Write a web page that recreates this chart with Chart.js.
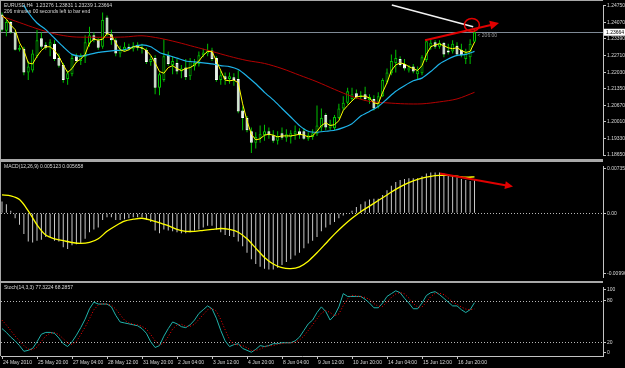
<!DOCTYPE html>
<html>
<head>
<meta charset="utf-8">
<title>EURUSD,H4</title>
<script src="https://cdn.jsdelivr.net/npm/chart.js@4.4.1/dist/chart.umd.min.js"></script>
<style>
  html, body { margin: 0; padding: 0; background: #000; }
  #wrap { position: relative; width: 625px; height: 368px; background: #000; overflow: hidden;
          font-family: "Liberation Sans", Arial, sans-serif; }
  canvas { position: absolute; left: 1px; }
  .sep { position: absolute; left: 0; width: 603px; background: #a8a8a8; }
  .txt { position: absolute; left: 4px; color: #d8d8d8; font-size: 5px; line-height: 6px; white-space: nowrap; }
</style>
</head>
<body>
<div id="wrap">
  <div class="sep" style="top:0;height:1px"></div>
  <div class="sep" style="top:0;width:1px;height:356px"></div>
  <canvas id="main" width="624" height="158" style="top:1px"></canvas>
  <div class="sep" style="top:159px;height:3px"></div>
  <canvas id="macd" width="624" height="119" style="top:162px"></canvas>
  <div class="sep" style="top:281px;height:2px"></div>
  <canvas id="stoch" width="624" height="85" style="top:283px"></canvas>

  <div class="txt" style="top:2px">EURUSD,H4&nbsp; 1.23276 1.23831 1.23239 1.23664</div>
  <div class="txt" style="top:8px">206 minutes 00 seconds left to bar end</div>
  <div class="txt" style="top:163px">MACD(12,26,9) 0.005123 0.005658</div>
  <div class="txt" style="top:284px">Stoch(14,3,3) 77.3224 68.2857</div>
</div>

<script>
// ---------------- data (H4 bars, 24 May 12:00 .. 17 Jun 12:00) ----------------
var TIME_LABELS = ['24 May 2010', '25 May 20:00', '27 May 04:00', '28 May 12:00', '31 May 20:00',
    '2 Jun 04:00', '3 Jun 12:00', '4 Jun 20:00', '8 Jun 04:00', '9 Jun 12:00',
    '10 Jun 20:00', '14 Jun 04:00', '15 Jun 12:00', '16 Jun 20:00'];
var TIME_TICK_BARS = [0, 8, 16, 24, 32, 40, 48, 56, 64, 72, 80, 88, 96, 104];

var OPEN = [
    1.2439, 1.2373, 1.2408, 1.2365, 1.2295, 1.2299, 1.2202, 1.2210, 1.2268, 1.2342,
    1.2315, 1.2311, 1.2319, 1.2261, 1.2233, 1.2175, 1.2195, 1.2268, 1.2249, 1.2264,
    1.2319, 1.2354, 1.2334, 1.2307, 1.2427, 1.2358, 1.2334, 1.2280, 1.2295, 1.2307,
    1.2299, 1.2315, 1.2303, 1.2295, 1.2245, 1.2261, 1.2140, 1.2171, 1.2272, 1.2233,
    1.2241, 1.2206, 1.2222, 1.2187, 1.2226, 1.2237, 1.2272, 1.2280, 1.2292, 1.2261,
    1.2171, 1.2187, 1.2175, 1.2183, 1.2175, 1.2047, 1.2016, 1.1962, 1.1915, 1.1935,
    1.1946, 1.1962, 1.1946, 1.1923, 1.1954, 1.1935, 1.1939, 1.1950, 1.1962, 1.1962,
    1.1931, 1.1939, 1.1950, 1.1977, 1.2028, 1.1974, 1.1974, 1.2016, 1.2055, 1.2078,
    1.2094, 1.2117, 1.2102, 1.2113, 1.2090, 1.2094, 1.2063, 1.2105, 1.2164, 1.2199,
    1.2241, 1.2257, 1.2237, 1.2210, 1.2226, 1.2195, 1.2199, 1.2253, 1.2307, 1.2326,
    1.2307, 1.2323, 1.2292, 1.2288, 1.2311, 1.2295, 1.2257, 1.2264, 1.23276];
var HIGH = [
    1.2447, 1.2416, 1.2412, 1.2369, 1.2315, 1.2307, 1.2249, 1.2295, 1.2377, 1.2365,
    1.2326, 1.2338, 1.2334, 1.2280, 1.2241, 1.2210, 1.2276, 1.2280, 1.2280, 1.2354,
    1.2389, 1.2365, 1.2342, 1.2447, 1.2435, 1.2377, 1.2342, 1.2311, 1.2326, 1.2319,
    1.2326, 1.2326, 1.2319, 1.2303, 1.2268, 1.2272, 1.2202, 1.2338, 1.2288, 1.2268,
    1.2257, 1.2233, 1.2257, 1.2261, 1.2257, 1.2288, 1.2299, 1.2319, 1.2303, 1.2268,
    1.2210, 1.2202, 1.2202, 1.2199, 1.2210, 1.2063, 1.2024, 1.1977, 1.1958, 1.1985,
    1.1989, 1.1977, 1.1966, 1.1962, 1.1977, 1.1970, 1.1966, 1.1985, 1.1974, 1.1974,
    1.1958, 1.1970, 1.2067, 1.2055, 1.2036, 1.2009, 1.2028, 1.2074, 1.2105, 1.2140,
    1.2140, 1.2133, 1.2125, 1.2144, 1.2113, 1.2109, 1.2121, 1.2179, 1.2218, 1.2276,
    1.2295, 1.2268, 1.2257, 1.2233, 1.2237, 1.2226, 1.2272, 1.2338, 1.2338, 1.2334,
    1.2334, 1.2326, 1.2319, 1.2334, 1.2326, 1.2319, 1.2299, 1.2338, 1.23831];
var LOW = [
    1.2369, 1.2350, 1.2361, 1.2292, 1.2288, 1.2191, 1.2171, 1.2202, 1.2261, 1.2299,
    1.2295, 1.2268, 1.2249, 1.2222, 1.2160, 1.2152, 1.2187, 1.2241, 1.2233, 1.2241,
    1.2307, 1.2326, 1.2295, 1.2299, 1.2350, 1.2315, 1.2268, 1.2264, 1.2288, 1.2292,
    1.2288, 1.2292, 1.2280, 1.2237, 1.2230, 1.2113, 1.2109, 1.2164, 1.2230, 1.2195,
    1.2195, 1.2179, 1.2171, 1.2171, 1.2210, 1.2226, 1.2264, 1.2268, 1.2249, 1.2164,
    1.2152, 1.2152, 1.2156, 1.2148, 1.2036, 1.1966, 1.1958, 1.1873, 1.1892, 1.1915,
    1.1923, 1.1931, 1.1915, 1.1908, 1.1927, 1.1919, 1.1912, 1.1927, 1.1931, 1.1927,
    1.1923, 1.1927, 1.1943, 1.1962, 1.1966, 1.1966, 1.1966, 1.2012, 1.2047, 1.2071,
    1.2086, 1.2094, 1.2094, 1.2086, 1.2074, 1.2047, 1.2055, 1.2102, 1.2156, 1.2191,
    1.2202, 1.2226, 1.2210, 1.2202, 1.2199, 1.2171, 1.2191, 1.2245, 1.2295, 1.2299,
    1.2299, 1.2264, 1.2276, 1.2280, 1.2268, 1.2264, 1.2237, 1.2237, 1.23239];
var CLOSE = [
    1.2377, 1.2408, 1.2365, 1.2295, 1.2303, 1.2202, 1.2226, 1.2280, 1.2334, 1.2307,
    1.2303, 1.2326, 1.2257, 1.2230, 1.2171, 1.2199, 1.2261, 1.2249, 1.2272, 1.2326,
    1.2354, 1.2334, 1.2303, 1.2416, 1.2358, 1.2334, 1.2280, 1.2295, 1.2307, 1.2299,
    1.2311, 1.2303, 1.2299, 1.2245, 1.2257, 1.2140, 1.2195, 1.2268, 1.2237, 1.2249,
    1.2206, 1.2218, 1.2183, 1.2249, 1.2241, 1.2272, 1.2284, 1.2292, 1.2257, 1.2171,
    1.2191, 1.2175, 1.2187, 1.2171, 1.2043, 1.2016, 1.1966, 1.1915, 1.1939, 1.1950,
    1.1962, 1.1946, 1.1923, 1.1943, 1.1935, 1.1950, 1.1954, 1.1962, 1.1946, 1.1931,
    1.1946, 1.1954, 1.1985, 1.2016, 1.1977, 1.1993, 1.2020, 1.2055, 1.2078, 1.2125,
    1.2113, 1.2102, 1.2109, 1.2094, 1.2102, 1.2055, 1.2105, 1.2171, 1.2202, 1.2249,
    1.2261, 1.2233, 1.2218, 1.2222, 1.2206, 1.2210, 1.2264, 1.2330, 1.2323, 1.2307,
    1.2323, 1.2276, 1.2284, 1.2319, 1.2276, 1.2272, 1.2284, 1.2319, 1.23664];

// moving averages (yellow every bar, blue every 2nd, red every 4th)
var MA_FAST = [
    1.2435, 1.2420, 1.2396, 1.2377, 1.2323, 1.2292, 1.2241, 1.2237, 1.2268, 1.2292,
    1.2307, 1.2307, 1.2292, 1.2268, 1.2233, 1.2202, 1.2218, 1.2245, 1.2257, 1.2276,
    1.2323, 1.2338, 1.2334, 1.2338, 1.2361, 1.2354, 1.2323, 1.2295, 1.2288, 1.2295,
    1.2307, 1.2307, 1.2303, 1.2292, 1.2272, 1.2241, 1.2206, 1.2199, 1.2222, 1.2230,
    1.2218, 1.2210, 1.2218, 1.2222, 1.2233, 1.2249, 1.2272, 1.2288, 1.2288, 1.2249,
    1.2210, 1.2171, 1.2168, 1.2171, 1.2160, 1.2074, 1.2005, 1.1950, 1.1927, 1.1931,
    1.1946, 1.1950, 1.1946, 1.1939, 1.1943, 1.1943, 1.1943, 1.1946, 1.1950, 1.1946,
    1.1939, 1.1943, 1.1962, 1.1985, 1.1997, 1.1985, 1.1989, 1.2005, 1.2047, 1.2067,
    1.2086, 1.2102, 1.2105, 1.2105, 1.2098, 1.2078, 1.2074, 1.2121, 1.2160, 1.2210,
    1.2233, 1.2241, 1.2237, 1.2226, 1.2218, 1.2210, 1.2230, 1.2276, 1.2307, 1.2315,
    1.2319, 1.2311, 1.2303, 1.2299, 1.2303, 1.2292, 1.2284, 1.2288, 1.2326];
var MA_MID_STEP = 2;
var MA_MID = [
    1.2590, 1.2560, 1.2505, 1.2447, 1.2404, 1.2377, 1.2342, 1.2307, 1.2276, 1.2268,
    1.2276, 1.2284, 1.2288, 1.2292, 1.2295, 1.2307, 1.2315, 1.2307, 1.2284, 1.2272,
    1.2261, 1.2249, 1.2245, 1.2241, 1.2237, 1.2230, 1.2226, 1.2214, 1.2187, 1.2156,
    1.2121, 1.2090, 1.2055, 1.2020, 1.1985, 1.1962, 1.1958, 1.1962, 1.1966, 1.1977,
    1.1993, 1.2024, 1.2043, 1.2063, 1.2094, 1.2125, 1.2148, 1.2168, 1.2179, 1.2206,
    1.2237, 1.2257, 1.2272, 1.2276, 1.2288];
var MA_SLOW_STEP = 4;
var MA_SLOW = [
    1.2431, 1.2406, 1.2381, 1.2360, 1.2348, 1.2346, 1.2346, 1.2347, 1.2352, 1.2342,
    1.2326, 1.2307, 1.2288, 1.2268, 1.2251, 1.2239, 1.2218, 1.2191, 1.2164, 1.2133,
    1.2104, 1.2084, 1.2078, 1.2074, 1.2074, 1.2082, 1.2094, 1.2121];

var MACD_HIST = [
    0.00182, 0.00138, 0.00036, -0.00080, -0.00182, -0.00327, -0.00444, -0.00458, -0.00429, -0.00415,
    -0.00371, -0.00371, -0.00429, -0.00444, -0.00531, -0.00560, -0.00502, -0.00487, -0.00473, -0.00400,
    -0.00298, -0.00255, -0.00226, -0.00109, -0.00065, -0.00065, -0.00109, -0.00109, -0.00095, -0.00080,
    -0.00065, -0.00065, -0.00065, -0.00109, -0.00138, -0.00269, -0.00313, -0.00255, -0.00269, -0.00284,
    -0.00298, -0.00313, -0.00313, -0.00298, -0.00269, -0.00255, -0.00226, -0.00196, -0.00196, -0.00255,
    -0.00298, -0.00342, -0.00356, -0.00371, -0.00444, -0.00517, -0.00618, -0.00720, -0.00793, -0.00837,
    -0.00866, -0.00880, -0.00880, -0.00851, -0.00808, -0.00764, -0.00720, -0.00662, -0.00618, -0.00546,
    -0.00473, -0.00429, -0.00371, -0.00284, -0.00226, -0.00182, -0.00138, -0.00080, -0.00036, 0.00007,
    0.00036, 0.00095, 0.00138, 0.00182, 0.00211, 0.00226, 0.00226, 0.00284, 0.00356, 0.00429,
    0.00487, 0.00517, 0.00531, 0.00546, 0.00546, 0.00546, 0.00575, 0.00618, 0.00633, 0.00633,
    0.00633, 0.00618, 0.00604, 0.00589, 0.00560, 0.00531, 0.00517, 0.00502, 0.005123];
var MACD_SIGNAL_STEP = 2;
var MACD_SIGNAL = [
    0.00284, 0.00269, 0.00211, 0.00036, -0.00182, -0.00342, -0.00400, -0.00429, -0.00458, -0.00473,
    -0.00458, -0.00400, -0.00284, -0.00196, -0.00124, -0.00095, -0.00080, -0.00109, -0.00153, -0.00196,
    -0.00255, -0.00284, -0.00284, -0.00269, -0.00255, -0.00240, -0.00255, -0.00298, -0.00400, -0.00546,
    -0.00691, -0.00793, -0.00851, -0.00866, -0.00837, -0.00749, -0.00618, -0.00473, -0.00327, -0.00196,
    -0.00080, 0.00022, 0.00109, 0.00196, 0.00284, 0.00371, 0.00444, 0.00502, 0.00546, 0.00575,
    0.00589, 0.00589, 0.00575, 0.00560, 0.005658];

var STOCH_MAIN = [
    39.7, 34.2, 27.4, 21.9, 15.1, 6.8, 8.2, 11.0, 20.5, 31.5,
    34.2, 34.2, 32.9, 26.0, 17.8, 13.7, 20.5, 30.1, 41.1, 53.4,
    68.5, 78.1, 75.3, 75.3, 75.3, 71.2, 58.9, 49.3, 47.9, 46.6,
    45.2, 43.8, 39.7, 32.9, 20.5, 12.3, 15.1, 28.8, 39.7, 49.3,
    46.6, 42.5, 41.1, 45.2, 52.1, 61.6, 67.1, 72.6, 68.5, 54.8,
    37.0, 21.9, 13.7, 16.4, 17.8, 11.0, 8.2, 5.5, 9.6, 15.1,
    13.7, 15.1, 17.8, 17.8, 19.2, 19.2, 19.2, 21.9, 27.4, 37.0,
    46.6, 52.1, 63.0, 71.2, 64.4, 52.1, 58.9, 71.2, 90.4, 86.3,
    86.3, 86.3, 86.3, 82.2, 76.7, 69.9, 69.9, 76.7, 86.3, 90.4,
    94.5, 91.8, 83.6, 76.7, 68.5, 68.5, 76.7, 87.7, 91.8, 93.2,
    89.0, 83.6, 78.1, 72.6, 72.6, 67.1, 63.0, 67.1, 77.3224];
var STOCH_SIGNAL = [
    52, 45, 37, 29, 22, 15, 10, 9, 13, 21,
    29, 33, 34, 31, 25, 19, 17, 21, 31, 42,
    54, 67, 74, 76, 75, 74, 68, 60, 52, 48,
    46, 45, 43, 39, 31, 22, 16, 19, 28, 39,
    45, 46, 43, 43, 46, 53, 60, 67, 69, 65,
    53, 38, 24, 17, 16, 15, 12, 8, 8, 10,
    13, 15, 15, 17, 18, 19, 19, 20, 23, 29,
    37, 45, 54, 62, 66, 63, 58, 61, 73, 83,
    88, 87, 86, 85, 82, 76, 72, 72, 78, 85,
    90, 92, 90, 84, 76, 71, 71, 78, 86, 91,
    91, 89, 84, 78, 75, 71, 68, 67, 68.2857];

var PRICE_TICKS = [1.24750, 1.24070, 1.23390, 1.22710, 1.22030, 1.21350, 1.20670, 1.20010, 1.19330, 1.18650];
var MACD_TICKS = [0.007352, 0, -0.009963];
var MACD_TICK_LABELS = ['0.007352', '0.00', '-0.009963'];
var STOCH_TICKS = [100, 80, 20, 0];
var STOCH_LEVELS = [80, 20];

// hand drawn objects on the chart: [bar, value]
var TREND_LINE = [[89.1, 1.2478], [107.7, 1.2389]];
var CIRCLE_AT = [107.4, 1.2396];
var PRICE_ARROW = [[96.7, 1.2334], [113.6, 1.2404]];
var MACD_ARROW = [[100.1, 0.00618], [116.8, 0.00415]];

// ---------------- drawing ----------------
var FONT = '"Liberation Sans", Arial, sans-serif';
var TEXT = '#d8d8d8';
var AXIS = '#c4c4c4';
var CANDLE = '#00c000';
var LAST = OPEN.length - 1;
var LAST_PRICE = CLOSE[LAST];
var BARS = OPEN.map(function (v, i) { return i; });

function stepPoints(values, step) {
    return values.map(function (v, k) { return {x: k * step, y: v}; });
}

function xAxis(show) {
    var ax = {
        type: 'linear', min: -0.2286, max: 137.37, offset: false, bounds: 'data',
        display: show
    };
    if (show) {
        ax.afterFit = function (s) { s.height = 12; };
        ax.afterBuildTicks = function (s) {
            s.ticks = TIME_TICK_BARS.map(function (v) { return {value: v}; });
        };
        ax.ticks = {
            callback: function (v, i) { return TIME_LABELS[i]; },
            align: 'start', autoSkip: false, maxRotation: 0, padding: 1, labelOffset: 1,
            color: TEXT, font: {size: 5, family: FONT}
        };
        ax.grid = {drawOnChartArea: false, drawTicks: true, tickLength: 3, color: AXIS};
        ax.border = {display: true, color: AXIS, width: 1};
    }
    return ax;
}

// right hand axis, labels at the window edges are pulled inside like MT4 does
function yAxis(min, max, ticks, labelFn, inset) {
    return {
        type: 'linear', position: 'right', min: min, max: max, bounds: 'data', beginAtZero: false,
        afterFit: function (s) { s.width = 22; },
        afterBuildTicks: function (s) {
            var perPx = (s.max - s.min) / s.height;
            s.ticks = ticks.map(function (v) {
                if (inset && v >= s.max) return {value: v - inset[0] * perPx};
                if (inset && v <= s.min) return {value: v + inset[1] * perPx};
                return {value: v};
            });
        },
        ticks: {
            callback: labelFn, autoSkip: false, padding: 1,
            color: TEXT, font: {size: 5, family: FONT}
        },
        grid: {drawOnChartArea: false, drawTicks: true, tickLength: 3, color: AXIS},
        border: {display: true, color: AXIS, width: 1}
    };
}

function baseOptions(scales) {
    return {
        responsive: false, animation: false, devicePixelRatio: 1, events: [],
        layout: {padding: 0, autoPadding: false},
        plugins: {legend: {display: false}, tooltip: {enabled: false}, title: {display: false}},
        scales: scales
    };
}

function drawArrow(ctx, x1, y1, x2, y2, color, width, head) {
    var a = Math.atan2(y2 - y1, x2 - x1);
    var c = Math.cos(a), s = Math.sin(a);
    ctx.strokeStyle = color;
    ctx.fillStyle = color;
    ctx.lineWidth = width;
    ctx.beginPath();
    ctx.moveTo(x1, y1);
    ctx.lineTo(x2 - head * 0.8 * c, y2 - head * 0.8 * s);
    ctx.stroke();
    ctx.beginPath();
    ctx.moveTo(x2, y2);
    ctx.lineTo(x2 - head * c + head * 0.5 * s, y2 - head * s - head * 0.5 * c);
    ctx.lineTo(x2 - head * c - head * 0.5 * s, y2 - head * s + head * 0.5 * c);
    ctx.closePath();
    ctx.fill();
}

function dottedLevels(levels) {
    return {
        id: 'levels',
        beforeDatasetsDraw: function (chart) {
            var ctx = chart.ctx, a = chart.chartArea, y = chart.scales.y;
            ctx.save();
            ctx.strokeStyle = '#b8b8b8';
            ctx.lineWidth = 1;
            ctx.setLineDash([1, 2]);
            levels.forEach(function (v) {
                var py = Math.round(y.getPixelForValue(v)) + 0.5;
                ctx.beginPath();
                ctx.moveTo(a.left, py);
                ctx.lineTo(a.right, py);
                ctx.stroke();
            });
            ctx.restore();
        }
    };
}

var mainMarks = {
    id: 'mainMarks',
    beforeDatasetsDraw: function (chart) {
        var ctx = chart.ctx, a = chart.chartArea, y = chart.scales.y;
        var py = Math.round(y.getPixelForValue(LAST_PRICE)) + 0.5;
        ctx.save();
        ctx.strokeStyle = '#7f8a96';
        ctx.lineWidth = 1;
        ctx.beginPath();
        ctx.moveTo(a.left, py);
        ctx.lineTo(a.right, py);
        ctx.stroke();
        ctx.restore();
    },
    afterDatasetsDraw: function (chart) {
        var ctx = chart.ctx, x = chart.scales.x, y = chart.scales.y;
        ctx.save();
        ctx.strokeStyle = '#f2f2f2';
        ctx.lineWidth = 1.5;
        ctx.beginPath();
        ctx.moveTo(x.getPixelForValue(TREND_LINE[0][0]), y.getPixelForValue(TREND_LINE[0][1]));
        ctx.lineTo(x.getPixelForValue(TREND_LINE[1][0]), y.getPixelForValue(TREND_LINE[1][1]));
        ctx.stroke();

        ctx.strokeStyle = '#e00000';
        ctx.lineWidth = 1.5;
        ctx.beginPath();
        ctx.ellipse(x.getPixelForValue(CIRCLE_AT[0]), y.getPixelForValue(CIRCLE_AT[1]), 7.5, 6.5, 0, 0, Math.PI * 2);
        ctx.stroke();

        drawArrow(ctx,
            x.getPixelForValue(PRICE_ARROW[0][0]), y.getPixelForValue(PRICE_ARROW[0][1]),
            x.getPixelForValue(PRICE_ARROW[1][0]), y.getPixelForValue(PRICE_ARROW[1][1]),
            '#e00000', 2, 9);

        ctx.fillStyle = '#9a9a9a';
        ctx.font = '5px ' + FONT;
        ctx.textBaseline = 'middle';
        ctx.fillText('< 206:00', x.getPixelForValue(LAST) + 3, y.getPixelForValue(LAST_PRICE) + 3);
        ctx.restore();
    },
    afterDraw: function (chart) {
        var ctx = chart.ctx, a = chart.chartArea, y = chart.scales.y;
        var py = y.getPixelForValue(LAST_PRICE);
        ctx.save();
        ctx.fillStyle = '#ffffff';
        ctx.fillRect(a.right + 1, py - 3.5, 22, 7);
        ctx.fillStyle = '#000000';
        ctx.font = '5px ' + FONT;
        ctx.textBaseline = 'middle';
        ctx.fillText(LAST_PRICE.toFixed(5), a.right + 3, py);
        ctx.restore();
    }
};

var macdMarks = {
    id: 'macdMarks',
    afterDatasetsDraw: function (chart) {
        var ctx = chart.ctx, x = chart.scales.x, y = chart.scales.y;
        ctx.save();
        drawArrow(ctx,
            x.getPixelForValue(MACD_ARROW[0][0]), y.getPixelForValue(MACD_ARROW[0][1]),
            x.getPixelForValue(MACD_ARROW[1][0]), y.getPixelForValue(MACD_ARROW[1][1]),
            '#e00000', 2, 8);
        ctx.restore();
    }
};

function isBull(i) { return CLOSE[i] >= OPEN[i]; }

// main price window
new Chart(document.getElementById('main'), {
    type: 'bar',
    data: {
        datasets: [{
            label: 'wick',
            data: BARS.map(function (i) { return {x: i, y: [LOW[i], HIGH[i]]}; }),
            backgroundColor: CANDLE, barThickness: 1, grouped: false,
            borderSkipped: false, inflateAmount: 0, order: 5
        }, {
            label: 'body',
            data: BARS.map(function (i) { return {x: i, y: [OPEN[i], CLOSE[i]]}; }),
            backgroundColor: function (c) { return isBull(c.dataIndex) ? '#000000' : '#ffffff'; },
            borderColor: function (c) { return isBull(c.dataIndex) ? CANDLE : '#ffffff'; },
            borderWidth: 1, barThickness: 3, grouped: false,
            borderSkipped: false, inflateAmount: 0, order: 4
        }, {
            type: 'line', label: 'MA slow',
            data: stepPoints(MA_SLOW, MA_SLOW_STEP),
            borderColor: '#b40000', borderWidth: 1, pointRadius: 0, tension: 0.3, order: 3
        }, {
            type: 'line', label: 'MA mid',
            data: stepPoints(MA_MID, MA_MID_STEP),
            borderColor: '#1eb4ea', borderWidth: 1.2, pointRadius: 0, tension: 0.2, order: 2
        }, {
            type: 'line', label: 'MA fast',
            data: stepPoints(MA_FAST, 1),
            borderColor: '#ffff00', borderWidth: 1, pointRadius: 0, tension: 0, order: 1
        }]
    },
    options: baseOptions({
        x: xAxis(false),
        y: yAxis(1.18650, 1.24777, PRICE_TICKS, function (v) { return v.toFixed(5); }, null)
    }),
    plugins: [mainMarks]
});

// MACD window
new Chart(document.getElementById('macd'), {
    type: 'bar',
    data: {
        datasets: [{
            label: 'MACD',
            data: BARS.map(function (i) { return {x: i, y: MACD_HIST[i]}; }),
            backgroundColor: '#c8c8c8', barThickness: 1, grouped: false,
            inflateAmount: 0, order: 2
        }, {
            type: 'line', label: 'Signal',
            data: stepPoints(MACD_SIGNAL, MACD_SIGNAL_STEP),
            borderColor: '#ffff00', borderWidth: 1.3, pointRadius: 0, tension: 0.3, order: 1
        }]
    },
    options: baseOptions({
        x: xAxis(false),
        y: yAxis(-0.009963, 0.007352, MACD_TICKS, function (v, i) { return MACD_TICK_LABELS[i]; }, [2.5, 4])
    }),
    plugins: [dottedLevels([0]), macdMarks]
});

// Stochastic window
new Chart(document.getElementById('stoch'), {
    type: 'line',
    data: {
        datasets: [{
            label: 'Main',
            data: stepPoints(STOCH_MAIN, 1),
            borderColor: '#20b2aa', borderWidth: 1, pointRadius: 0, tension: 0, order: 2
        }, {
            label: 'Signal',
            data: stepPoints(STOCH_SIGNAL, 1),
            borderColor: '#ff0000', borderWidth: 1, borderDash: [1, 2], pointRadius: 0, tension: 0, order: 1
        }]
    },
    options: baseOptions({
        x: xAxis(true),
        y: yAxis(0, 100, STOCH_TICKS, function (v, i) { return String(STOCH_TICKS[i]); }, [3, 3.5])
    }),
    plugins: [dottedLevels(STOCH_LEVELS)]
});
</script>
</body>
</html>
